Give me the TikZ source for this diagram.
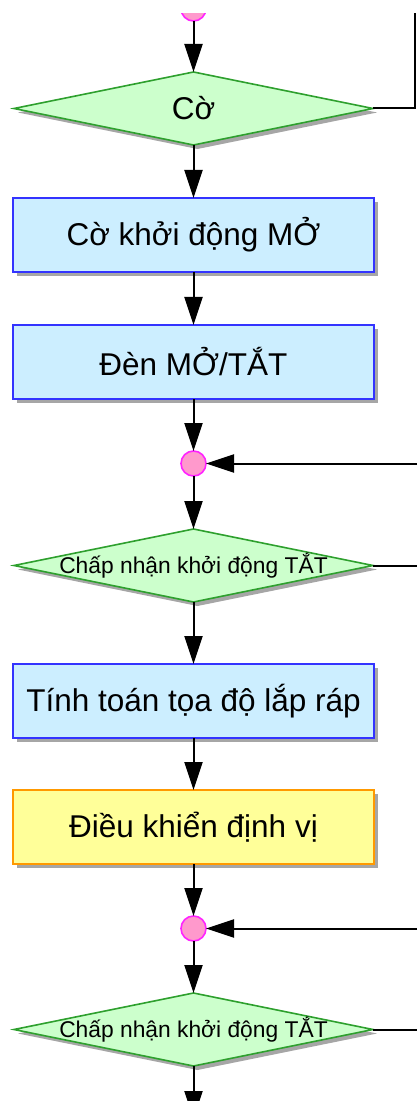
\documentclass[tikz,border=0pt]{standalone}
\usepackage{fontspec}
\setmainfont{Liberation Sans}
\usetikzlibrary{arrows.meta, positioning, shapes.geometric, shadows}
\usepackage{xcolor}
\definecolor{procfill}{HTML}{CCEEFF}
\definecolor{procdraw}{HTML}{3333FF}
\definecolor{decfill}{HTML}{CCFFCC}
\definecolor{decdraw}{HTML}{2EA02E}
\definecolor{ctrlfill}{HTML}{FFFF99}
\definecolor{ctrldraw}{HTML}{FF9900}
\definecolor{joinfill}{HTML}{FF99CC}
\definecolor{joindraw}{HTML}{FF22FF}
\newcommand{\zerowide}[1]{\makebox[0pt]{#1}}
\tikzset{
    process/.style={
        rectangle, draw=procdraw, fill=procfill, outer sep=0pt,
        minimum width=180.5pt, minimum height=37pt,
        line width=1pt, font=\fontsize{15.75}{18}\selectfont,
        drop shadow={shadow xshift=2pt, shadow yshift=-2pt, opacity=0.35, fill=black}
    },
    control/.style={
        process, draw=ctrldraw, fill=ctrlfill
    },
    decision/.style={
        diamond, draw=decdraw, fill=decfill, inner sep=0pt, outer sep=0pt,
        minimum width=179.5pt, minimum height=36.5pt,
        line width=0.8pt, font=\fontsize{11.4}{13}\selectfont,
        drop shadow={shadow xshift=2pt, shadow yshift=-2pt, opacity=0.35, fill=black}
    },
    junction/.style={
        circle, draw=joindraw, fill=joinfill, inner sep=0pt, outer sep=0pt,
        minimum size=12.5pt, line width=0.8pt
    },
    arrow/.style={-{Triangle[length=14pt, width=9pt]}, line width=1pt, draw=black},
    line/.style={line width=1pt, draw=black}
}

\begin{document}
\begin{tikzpicture}[node distance=26.5pt]
    \useasboundingbox (0,0) rectangle (208.5pt,-550.5pt);
    \begin{scope}
    \clip (0,-7pt) rectangle (208.5pt,-570pt);

    \node[junction] (c1) at (96.75pt,-4.25pt) {};
    \node[decision, below=25.5pt of c1, font=\fontsize{15.75}{18}\selectfont] (flag) {\zerowide{Cờ}};
    \node[process, below=of flag] (flagon) {Cờ khởi động MỞ};
    \node[process, below=of flagon] (lamp) {Đèn MỞ/TẮT};
    \node[junction, below=26pt of lamp] (c2) {};
    \node[decision, below=of c2] (accept1) {\zerowide{Chấp nhận khởi động TẮT}};
    \node[process, below=31pt of accept1] (calc) {Tính toán tọa độ lắp ráp};
    \node[control, below=26pt of calc] (posctrl) {Điều khiển định vị};
    \node[junction, below=26pt of posctrl] (c3) {};
    \node[decision, below=26pt of c3] (accept2) {\zerowide{Chấp nhận khởi động TẮT}};

    % free ends at the right edge and below the page
    \coordinate (edge) at (208.5pt,0);
    \coordinate (up1) at (207.5pt,0);
    \coordinate (ret2) at (edge |- c2);
    \coordinate (ret3) at (edge |- c3);
    \coordinate (out2) at (edge |- accept1);
    \coordinate (out3) at (edge |- accept2);
    \coordinate[below=of accept2] (down);

    \draw[arrow] (c1) -- (flag);
    \draw[arrow] (flag) -- (flagon);
    \draw[arrow] (flagon) -- (lamp);
    \draw[arrow] (lamp) -- (c2);
    \draw[arrow] (c2) -- (accept1);
    \draw[arrow] (accept1) -- (calc);
    \draw[arrow] (calc) -- (posctrl);
    \draw[arrow] (posctrl) -- (c3);
    \draw[arrow] (c3) -- (accept2);
    \draw[arrow] (accept2) -- (down);

    \draw[line] (flag.east) -| (up1);
    \draw[arrow] (ret2) -- (c2);
    \draw[line] (accept1.east) -- (out2);
    \draw[arrow] (ret3) -- (c3);
    \draw[line] (accept2.east) -- (out3);
    \end{scope}
\end{tikzpicture}
\end{document}
